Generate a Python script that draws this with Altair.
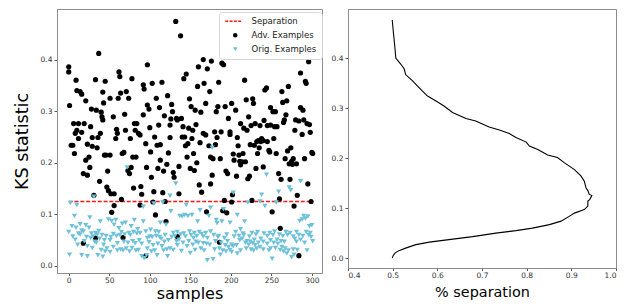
import altair as alt
import pandas as pd

# ---------------- data ----------------
adv_x = [0, 0, 1, 3, 5, 6, 7, 8, 9, 10,
         10, 12, 12, 14, 16, 16, 18, 18, 19, 21,
         21, 23, 23, 25, 26, 27, 28, 29, 29, 31,
         33, 33, 34, 35, 36, 37, 38, 39, 40, 41,
         42, 42, 43, 44, 45, 46, 47, 48, 49, 51,
         51, 52, 53, 55, 56, 56, 58, 59, 60, 61,
         62, 63, 64, 65, 66, 67, 68, 69, 70, 71,
         73, 74, 75, 76, 77, 78, 79, 80, 81, 82,
         83, 84, 86, 88, 88, 89, 90, 92, 92, 93,
         95, 96, 97, 97, 99, 100, 101, 102, 103, 104,
         105, 106, 107, 108, 109, 110, 111, 112, 113, 113,
         115, 116, 117, 118, 119, 120, 121, 122, 123, 125,
         125, 126, 127, 128, 129, 130, 132, 133, 134, 134,
         136, 136, 138, 139, 140, 141, 142, 143, 144, 145,
         146, 147, 148, 149, 150, 151, 152, 153, 154, 155,
         156, 157, 158, 159, 160, 161, 162, 163, 164, 166,
         166, 167, 169, 169, 170, 171, 173, 174, 175, 175,
         176, 177, 178, 180, 181, 182, 183, 184, 185, 186,
         187, 188, 189, 190, 191, 192, 193, 194, 195, 196,
         197, 199, 199, 201, 201, 202, 203, 204, 206, 207,
         208, 209, 210, 211, 212, 212, 214, 215, 216, 217,
         218, 219, 220, 221, 222, 223, 224, 225, 226, 227,
         228, 229, 230, 231, 232, 233, 234, 235, 236, 237,
         238, 240, 240, 241, 242, 244, 245, 245, 247, 248,
         249, 249, 251, 252, 253, 254, 255, 256, 257, 259,
         260, 261, 262, 263, 264, 265, 266, 267, 268, 269,
         270, 271, 272, 273, 274, 275, 276, 277, 278, 279,
         280, 281, 282, 284, 284, 286, 286, 288, 289, 290,
         291, 292, 293, 294, 295, 296, 297, 298, 299, 300, 301,
         95]
adv_y = [0.386, 0.376, 0.311, 0.234, 0.234, 0.276, 0.218, 0.257, 0.36, 0.34,
         0.263, 0.276, 0.247, 0.338, 0.333, 0.259, 0.179, 0.044, 0.276, 0.32,
         0.205, 0.176, 0.236, 0.211, 0.191, 0.27, 0.304, 0.232, 0.249, 0.137,
         0.361, 0.054, 0.302, 0.229, 0.249, 0.412, 0.164, 0.257, 0.298, 0.289,
         0.337, 0.283, 0.316, 0.215, 0.358, 0.215, 0.153, 0.184, 0.146, 0.325,
         0.215, 0.14, 0.104, 0.289, 0.14, 0.117, 0.247, 0.265, 0.257, 0.325,
         0.376, 0.367, 0.335, 0.129, 0.218, 0.055, 0.22, 0.294, 0.263, 0.338,
         0.185, 0.325, 0.179, 0.247, 0.191, 0.363, 0.211, 0.151, 0.276, 0.263,
         0.211, 0.276, 0.257, 0.254, 0.118, 0.154, 0.139, 0.351, 0.293, 0.343,
         0.237, 0.191, 0.312, 0.39, 0.304, 0.268, 0.221, 0.172, 0.354, 0.124,
         0.144, 0.25, 0.099, 0.325, 0.234, 0.189, 0.273, 0.307, 0.205, 0.235,
         0.356, 0.142, 0.184, 0.291, 0.125, 0.086, 0.197, 0.33, 0.219, 0.273,
         0.249, 0.285, 0.313, 0.299, 0.181, 0.172, 0.474, 0.286, 0.057, 0.283,
         0.14, 0.193, 0.446, 0.286, 0.25, 0.27, 0.363, 0.25, 0.233, 0.372,
         0.211, 0.237, 0.267, 0.324, 0.189, 0.309, 0.247, 0.263, 0.218, 0.185,
         0.302, 0.274, 0.2, 0.348, 0.386, 0.157, 0.239, 0.298, 0.143, 0.4,
         0.257, 0.354, 0.315, 0.254, 0.105, 0.382, 0.233, 0.338, 0.211, 0.159,
         0.397, 0.176, 0.208, 0.26, 0.235, 0.299, 0.249, 0.309, 0.356, 0.046,
         0.208, 0.26, 0.393, 0.107, 0.39, 0.127, 0.309, 0.184, 0.103, 0.179,
         0.286, 0.26, 0.255, 0.315, 0.124, 0.138, 0.217, 0.205, 0.302, 0.174,
         0.249, 0.233, 0.215, 0.203, 0.196, 0.276, 0.202, 0.218, 0.267, 0.36,
         0.202, 0.322, 0.263, 0.169, 0.289, 0.174, 0.235, 0.272, 0.127, 0.324,
         0.315, 0.234, 0.276, 0.189, 0.241, 0.218, 0.243, 0.229, 0.272, 0.241,
         0.247, 0.192, 0.243, 0.282, 0.341, 0.345, 0.241, 0.272, 0.224, 0.221,
         0.273, 0.307, 0.105, 0.299, 0.247, 0.27, 0.299, 0.218, 0.27, 0.179,
         0.13, 0.073, 0.168, 0.338, 0.317, 0.278, 0.283, 0.208, 0.293, 0.32,
         0.223, 0.348, 0.198, 0.168, 0.229, 0.203, 0.197, 0.208, 0.116, 0.263,
         0.283, 0.198, 0.137, 0.281, 0.02, 0.307, 0.374, 0.255, 0.302, 0.283,
         0.208, 0.358, 0.354, 0.276, 0.159, 0.396, 0.274, 0.259, 0.125, 0.22, 0.218,
         0.02]

orig_x = [0, 1, 2, 4, 5, 7, 8, 9, 10, 11,
          12, 14, 14, 16, 16, 18, 19, 21, 22, 23,
          23, 25, 26, 27, 28, 29, 30, 31, 32, 33,
          34, 35, 36, 37, 38, 39, 40, 41, 42, 43,
          44, 45, 46, 47, 49, 51, 51, 52, 53, 55,
          55, 56, 58, 59, 60, 60, 62, 63, 64, 65,
          66, 67, 68, 69, 70, 71, 72, 73, 74, 75,
          76, 77, 78, 79, 80, 81, 82, 83, 84, 85,
          86, 87, 88, 90, 90, 92, 92, 93, 95, 96,
          97, 97, 99, 100, 101, 102, 103, 104, 105, 106,
          107, 108, 109, 110, 111, 112, 113, 114, 115, 116,
          117, 118, 119, 120, 121, 122, 123, 125, 125, 126,
          127, 129, 129, 131, 132, 133, 134, 134, 136, 137,
          138, 139, 140, 141, 142, 143, 144, 145, 146, 147,
          148, 149, 150, 151, 152, 153, 154, 155, 156, 157,
          158, 159, 160, 161, 162, 163, 164, 166, 166, 167,
          169, 170, 171, 171, 173, 174, 175, 175, 177, 178,
          179, 180, 181, 182, 183, 184, 185, 186, 187, 188,
          189, 190, 191, 192, 193, 194, 195, 196, 197, 199,
          199, 201, 201, 203, 203, 204, 206, 207, 208, 208,
          210, 211, 212, 212, 214, 215, 216, 217, 218, 219,
          220, 221, 222, 223, 224, 225, 226, 227, 228, 229,
          230, 231, 232, 233, 234, 236, 236, 237, 238, 240,
          240, 241, 242, 244, 245, 245, 247, 248, 249, 249,
          251, 252, 253, 254, 255, 256, 257, 258, 259, 260,
          261, 262, 263, 264, 265, 266, 267, 268, 269, 270,
          271, 272, 273, 274, 275, 277, 277, 278, 279, 281,
          281, 282, 284, 285, 286, 286, 288, 289, 290, 291,
          292, 293, 294, 295, 296, 297, 298, 299, 300, 301]
orig_y = [0.066, 0.022, 0.122, 0.077, 0.057, 0.097, 0.051, 0.074, 0.118, 0.041,
          0.063, 0.081, 0.061, 0.069, 0.021, 0.067, 0.048, 0.079, 0.056, 0.019,
          0.038, 0.074, 0.094, 0.054, 0.063, 0.035, 0.057, 0.134, 0.047, 0.064,
          0.045, 0.061, 0.021, 0.068, 0.053, 0.086, 0.031, 0.06, 0.018, 0.041,
          0.05, 0.028, 0.058, 0.034, 0.09, 0.05, 0.027, 0.056, 0.087, 0.062,
          0.037, 0.08, 0.089, 0.058, 0.03, 0.044, 0.073, 0.06, 0.032, 0.066,
          0.082, 0.03, 0.047, 0.061, 0.084, 0.034, 0.191, 0.045, 0.064, 0.028,
          0.06, 0.077, 0.035, 0.048, 0.066, 0.089, 0.044, 0.03, 0.063, 0.071,
          0.031, 0.05, 0.064, 0.019, 0.043, 0.086, 0.115, 0.015, 0.067, 0.021,
          0.054, 0.034, 0.046, 0.057, 0.07, 0.028, 0.056, 0.04, 0.121, 0.03,
          0.067, 0.058, 0.021, 0.043, 0.066, 0.056, 0.084, 0.053, 0.038, 0.123,
          0.03, 0.047, 0.06, 0.08, 0.032, 0.019, 0.05, 0.136, 0.034, 0.106,
          0.056, 0.064, 0.031, 0.058, 0.16, 0.048, 0.04, 0.066, 0.051, 0.097,
          0.061, 0.029, 0.096, 0.045, 0.063, 0.099, 0.057, 0.118, 0.038, 0.097,
          0.048, 0.067, 0.025, 0.06, 0.099, 0.041, 0.054, 0.064, 0.031, 0.047,
          0.058, 0.086, 0.045, 0.066, 0.108, 0.034, 0.062, 0.044, 0.057, 0.03,
          0.064, 0.043, 0.011, 0.054, 0.097, 0.041, 0.067, 0.113, 0.229, 0.013,
          0.06, 0.032, 0.048, 0.089, 0.083, 0.056, 0.058, 0.034, 0.022, 0.045,
          0.086, 0.03, 0.11, 0.054, 0.04, 0.028, 0.061, 0.048, 0.037, 0.084,
          0.031, 0.041, 0.027, 0.142, 0.038, 0.057, 0.066, 0.04, 0.099, 0.024,
          0.058, 0.05, 0.071, 0.03, 0.053, 0.063, 0.06, 0.086, 0.045, 0.034,
          0.048, 0.123, 0.041, 0.057, 0.047, 0.032, 0.064, 0.044, 0.03, 0.051,
          0.04, 0.061, 0.034, 0.066, 0.045, 0.037, 0.125, 0.053, 0.138, 0.047,
          0.032, 0.063, 0.116, 0.177, 0.043, 0.058, 0.03, 0.064, 0.05, 0.034,
          0.014, 0.06, 0.045, 0.067, 0.035, 0.123, 0.051, 0.043, 0.144, 0.061,
          0.031, 0.048, 0.037, 0.058, 0.028, 0.047, 0.034, 0.066, 0.024, 0.06,
          0.03, 0.152, 0.064, 0.147, 0.017, 0.032, 0.057, 0.022, 0.053, 0.066,
          0.047, 0.031, 0.06, 0.087, 0.051, 0.164, 0.09, 0.058, 0.097, 0.045,
          0.092, 0.066, 0.03, 0.096, 0.06, 0.077, 0.064, 0.056, 0.079, 0.048]

sep_threshold = [0.125]
sep_start = [0]
sep_end = [301]

curve_sep = [0.499, 0.502, 0.505, 0.507, 0.518, 0.526, 0.529, 0.544, 0.559, 0.578,
             0.597, 0.615, 0.634, 0.664, 0.686, 0.716, 0.739, 0.761, 0.776, 0.799,
             0.806, 0.825, 0.847, 0.869, 0.884, 0.907, 0.922, 0.929, 0.933, 0.937,
             0.940, 0.946, 0.941, 0.937, 0.937, 0.929, 0.907, 0.896, 0.877, 0.851,
             0.813, 0.776, 0.731, 0.679, 0.626, 0.582, 0.552, 0.529, 0.514, 0.505,
             0.501, 0.499]
curve_thr = [0.476, 0.448, 0.421, 0.400, 0.388, 0.378, 0.367, 0.355, 0.341, 0.324,
             0.314, 0.304, 0.291, 0.279, 0.274, 0.262, 0.256, 0.249, 0.241, 0.232,
             0.224, 0.217, 0.206, 0.201, 0.191, 0.177, 0.164, 0.154, 0.140, 0.135,
             0.128, 0.125, 0.117, 0.114, 0.104, 0.097, 0.090, 0.084, 0.074, 0.067,
             0.060, 0.055, 0.050, 0.043, 0.037, 0.032, 0.027, 0.020, 0.015, 0.010,
             0.005, 0.000]

legend_names = ["Separation", "Adv. Examples", "Orig. Examples"]
legend_colors = ["#ff1a1a", "#000000", "#6ec1d8"]

# ---------------- tables ----------------
pts = pd.concat([
    pd.DataFrame({"sample": adv_x, "ks": adv_y, "series": legend_names[1]}),
    pd.DataFrame({"sample": orig_x, "ks": orig_y, "series": legend_names[2]}),
], ignore_index=True)
pts["ord"] = range(len(pts))
sep_df = pd.DataFrame({"start": sep_start, "end": sep_end, "thr": sep_threshold})
curve_df = pd.DataFrame({"sep": curve_sep, "thr": curve_thr})
curve_df["ord"] = range(len(curve_df))

dash_path = ("M-4.47,-0.3H-3.13V0.3H-4.47Z M-2.55,-0.3H-1.21V0.3H-2.55Z "
             "M-0.63,-0.3H0.72V0.3H-0.63Z M1.3,-0.3H2.64V0.3H1.3Z")
shapes = [dash_path, "circle", "triangle-down"]

FONT = "DejaVu Sans"
LW, LH = 265, 264
RW, RH = 268, 259
X_DOM = [-14.5, 312.5]
Y_DOM = [-0.0136, 0.498]

leg = alt.Legend(title=None, orient="none", legendX=162, legendY=3,
                 fillColor="white", strokeColor="#d6d6d6", cornerRadius=3,
                 padding=5, labelFont=FONT, labelFontSize=8.5, labelColor="#222222",
                 symbolSize=20, symbolStrokeWidth=0, symbolOffset=7, labelOffset=12,
                 rowPadding=5, symbolOpacity=1)

rule = alt.Chart(sep_df).mark_rule(color="#ff1a1a", strokeDash=[4, 1.8], strokeWidth=1.3,
                                   opacity=1).encode(
    x=alt.X("start:Q", scale=alt.Scale(domain=X_DOM, nice=False, zero=False),
            axis=alt.Axis(values=[0, 50, 100, 150, 200, 250, 300], format="d",
                          title="samples", titleFontSize=16, titlePadding=1)),
    x2="end:Q",
    y=alt.Y("thr:Q", scale=alt.Scale(domain=Y_DOM, nice=False, zero=False),
            axis=alt.Axis(values=[0, 0.1, 0.2, 0.3, 0.4], format=".1f",
                          title="KS statistic", titleFontSize=17.5, titlePadding=9)))

points = alt.Chart(pts).mark_point(filled=True, opacity=1, size=27, strokeWidth=0).encode(
    x=alt.X("sample:Q", scale=alt.Scale(domain=X_DOM, nice=False, zero=False), title="samples"),
    y=alt.Y("ks:Q", scale=alt.Scale(domain=Y_DOM, nice=False, zero=False), title="KS statistic"),
    color=alt.Color("series:N", scale=alt.Scale(domain=legend_names, range=legend_colors), legend=leg),
    shape=alt.Shape("series:N", scale=alt.Scale(domain=legend_names, range=shapes), legend=leg),
    order=alt.Order("ord:Q"),
)

left = alt.layer(rule, points).properties(width=LW, height=LH)

right = alt.Chart(curve_df).mark_line(color="black", strokeWidth=1.1).encode(
    x=alt.X("sep:Q", scale=alt.Scale(domain=[0.4, 1.0], nice=False, zero=False),
            axis=alt.Axis(values=[0.4, 0.5, 0.6, 0.7, 0.8, 0.9, 1.0], format=".1f",
                          title="% separation", titleFontSize=14.4, titlePadding=6)),
    y=alt.Y("thr:Q", scale=alt.Scale(domain=[-0.0197, 0.498], nice=False, zero=False),
            axis=alt.Axis(values=[0, 0.1, 0.2, 0.3, 0.4], format=".1f", title=None)),
    order=alt.Order("ord:Q"),
).properties(width=RW, height=RH)

chart = alt.hconcat(left, right, spacing=7).properties(
    padding={"left": 4, "top": 0, "right": 2, "bottom": 0}
).configure_view(stroke="#8c8c8c", strokeWidth=1).configure_axis(
    grid=False, labelFont=FONT, labelFontSize=7.5, labelColor="#333333",
    tickColor="#555555", tickSize=3, labelPadding=2, domainColor="#8c8c8c",
    titleFont=FONT, titleFontWeight="normal", titleColor="#000000",
).configure_axisX(tickSize=2.5, labelPadding=1).configure_legend(symbolOpacity=1)

chart.save("out.html", embed_options={"renderer": "svg", "actions": False})
